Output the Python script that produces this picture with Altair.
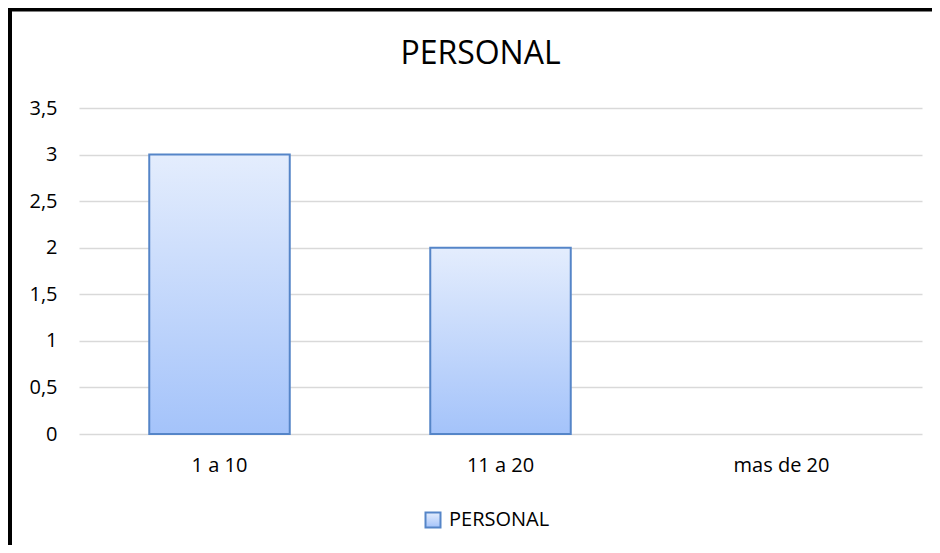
import altair as alt
import pandas as pd

categories = ["1 a 10", "11 a 20", "mas de 20"]
values = [3, 2, 0]
series = ["PERSONAL", "PERSONAL", "PERSONAL"]
y_ticks = [0, 0.5, 1, 1.5, 2, 2.5, 3, 3.5]

df = pd.DataFrame({"cat": categories, "val": values, "serie": series})

FONT = "Open Sans"
W, H = 843, 326
PAD = {"left": 71, "top": 100, "right": 10, "bottom": 111}

grad = alt.Gradient(
    gradient="linear",
    stops=[alt.GradientStop(color="#E4EDFD", offset=0),
           alt.GradientStop(color="#A4C3FA", offset=1)],
    x1=0, x2=0, y1=0, y2=1,
)

bars = alt.Chart(df).mark_bar(fill=grad, strokeWidth=2).encode(
    x=alt.X("cat:N", sort=categories, title=None,
            scale=alt.Scale(paddingInner=0.5, paddingOuter=0.25),
            axis=alt.Axis(labelAngle=0, labelPadding=21, ticks=False, domain=False, grid=False,
                          labelFontSize=20, labelFont=FONT, labelColor="#000000")),
    y=alt.Y("val:Q", title=None,
            scale=alt.Scale(domain=[0, 3.5], nice=False),
            axis=alt.Axis(values=y_ticks, labelPadding=22, ticks=False, domain=False,
                          labelFontSize=20, labelFont=FONT, labelColor="#000000",
                          gridColor="#D9D9D9", gridWidth=1.3,
                          labelExpr="replace(toString(datum.value), '.', ',')")),
    stroke=alt.Stroke("serie:N", scale=alt.Scale(range=["#5585C8"]),
                      legend=alt.Legend(title=None, orient="none", legendX=344, legendY=402,
                                        symbolType="square", symbolSize=225,
                                        symbolFillColor="#C8DAFB", symbolStrokeWidth=2,
                                        labelFont=FONT, labelFontSize=20, labelColor="#000000",
                                        labelOffset=6)),
    opacity=alt.condition(alt.datum.val > 0, alt.value(1), alt.value(0)),
)

border_df = pd.DataFrame({"k": [0]})
left_border = alt.Chart(border_df).mark_rule(color="#000000", strokeWidth=4).encode(
    x=alt.value(-69), y=alt.value(-98.5), y2=alt.value(H + PAD["bottom"] + 2)
)
top_border = alt.Chart(border_df).mark_rule(color="#000000", strokeWidth=4).encode(
    x=alt.value(-71), x2=alt.value(W + PAD["right"] + 2), y=alt.value(-98.5)
)

chart = alt.layer(bars, left_border, top_border).properties(
    width=W, height=H,
    title=alt.TitleParams("PERSONAL", font=FONT, fontSize=32, fontWeight="normal",
                          color="#000000", anchor="middle", dx=-20, offset=-88,
                          baseline="alphabetic"),
    autosize=alt.AutoSizeParams(type="none"),
    padding=PAD,
    background="white",
).configure_view(stroke=None)

chart.save("out.html", embed_options={"renderer": "svg", "actions": False})
